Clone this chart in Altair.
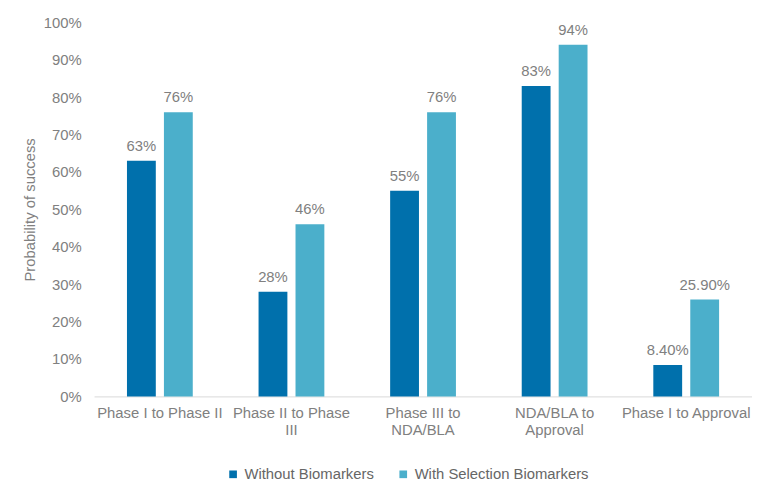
import altair as alt
import pandas as pd

categories = ["Phase I to Phase II", "Phase II to Phase III", "Phase III to NDA/BLA",
              "NDA/BLA to Approval", "Phase I to Approval"]
series = ["Without Biomarkers", "With Selection Biomarkers"]
without_vals = [0.63, 0.28, 0.55, 0.83, 0.084]
with_vals = [0.76, 0.46, 0.76, 0.94, 0.259]
without_text = ["63%", "28%", "55%", "83%", "8.40%"]
with_text = ["76%", "46%", "76%", "94%", "25.90%"]
y_ticks = [0.0, 0.1, 0.2, 0.3, 0.4, 0.5, 0.6, 0.7, 0.8, 0.9, 1.0]
colors = ["#0070AC", "#4BAFCB"]

rows = []
for i, c in enumerate(categories):
    rows.append({"cat": c, "series": series[0], "v": without_vals[i], "t": without_text[i]})
    rows.append({"cat": c, "series": series[1], "v": with_vals[i], "t": with_text[i]})
df = pd.DataFrame(rows)

label_expr = ("datum.label == 'Phase II to Phase III' ? ['Phase II to Phase', 'III'] : "
              "datum.label == 'Phase III to NDA/BLA' ? ['Phase III to', 'NDA/BLA'] : "
              "datum.label == 'NDA/BLA to Approval' ? ['NDA/BLA to', 'Approval'] : datum.label")

font = "Liberation Sans"
gray = "#808080"

x = alt.X("cat:N", sort=categories,
          scale=alt.Scale(paddingInner=0.5, paddingOuter=0.25),
          axis=alt.Axis(title=None, labelAngle=0, labelExpr=label_expr, labelFont=font,
                        labelFontSize=15, labelColor=gray, labelLineHeight=18,
                        labelPadding=9, ticks=False, domainColor="#D9D9D9",
                        labelLimit=200, labelOverlap=False))
xo = alt.XOffset("series:N", sort=series, scale=alt.Scale(paddingInner=0.22, paddingOuter=0))
y = alt.Y("v:Q", scale=alt.Scale(domain=[0, 1]),
          axis=alt.Axis(title="Probability of success", format=".0%", values=y_ticks,
                        grid=False, domain=False, ticks=False, labelFont=font, labelFontSize=15,
                        labelColor=gray, labelPadding=13, titleFont=font, titleFontSize=15,
                        titleColor=gray, titleFontWeight="normal", titlePadding=6,
                        labelOverlap=False, labelFlush=False))

bars = alt.Chart(df).mark_bar().encode(
    x=x, xOffset=xo, y=y,
    color=alt.Color("series:N", sort=series, scale=alt.Scale(domain=series, range=colors),
                    legend=alt.Legend(title=None, orient="none", direction="horizontal",
                                      legendX=133, legendY=449, symbolType="square",
                                      symbolSize=60, labelFont=font, labelFontSize=15,
                                      labelColor="#666666", columnPadding=22, labelLimit=400,
                                      symbolStrokeWidth=0, labelOffset=4))
)

text = alt.Chart(df).mark_text(baseline="bottom", dy=-7, font=font, fontSize=15, color=gray).encode(
    x=x, xOffset=xo, y=y, text="t:N"
)

chart = (bars + text).properties(
    width=665, height=378, padding={"left": 87, "top": 12, "right": 0, "bottom": 90},
    autosize="none"
).configure_view(stroke=None)

chart.save("out.html", embed_options={"renderer": "svg", "actions": False})
